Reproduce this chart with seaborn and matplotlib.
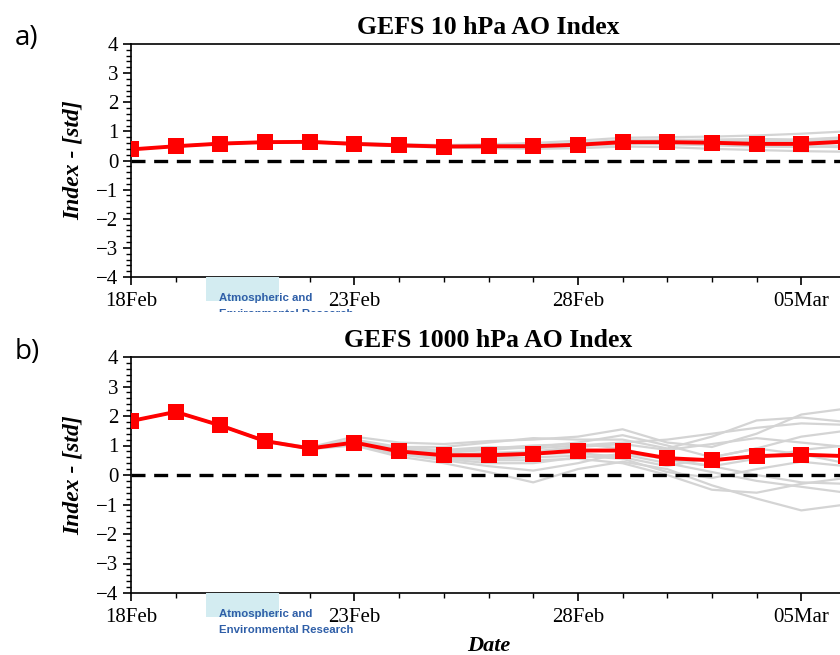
import numpy as np
import pandas as pd
import seaborn as sns
import matplotlib.pyplot as plt
import matplotlib.dates as mdates
from matplotlib.ticker import AutoMinorLocator
from matplotlib.patches import Rectangle

sns.set_style('ticks')
plt.rcParams['font.family'] = ['Liberation Serif', 'DejaVu Serif']
plt.rcParams['text.color'] = 'black'
plt.rcParams['axes.labelcolor'] = 'black'
plt.rcParams['axes.edgecolor'] = 'black'
plt.rcParams['xtick.color'] = 'black'
plt.rcParams['ytick.color'] = 'black'

dates = pd.date_range('2021-02-18', '2021-03-06', freq='D')

# ensemble mean (red)
mean_10 = [0.38, 0.49, 0.58, 0.63, 0.64, 0.57, 0.52, 0.48, 0.49, 0.49, 0.54, 0.63, 0.63, 0.61, 0.57, 0.57, 0.65]
mean_1000 = [1.83, 2.14, 1.68, 1.15, 0.90, 1.10, 0.80, 0.67, 0.67, 0.72, 0.83, 0.83, 0.57, 0.50, 0.64, 0.69, 0.64]

# ensemble members (grey)
members_10 = [
    [0.38, 0.49, 0.58, 0.64, 0.66, 0.60, 0.56, 0.53, 0.56, 0.60, 0.68, 0.78, 0.80, 0.82, 0.86, 0.92, 1.00],
    [0.38, 0.49, 0.57, 0.62, 0.62, 0.55, 0.49, 0.44, 0.42, 0.40, 0.42, 0.48, 0.46, 0.40, 0.36, 0.32, 0.30],
    [0.38, 0.50, 0.59, 0.64, 0.65, 0.58, 0.54, 0.50, 0.52, 0.54, 0.60, 0.70, 0.72, 0.70, 0.66, 0.70, 0.78],
    [0.38, 0.48, 0.58, 0.63, 0.63, 0.56, 0.50, 0.46, 0.46, 0.45, 0.50, 0.58, 0.56, 0.52, 0.48, 0.46, 0.50],
    [0.38, 0.49, 0.58, 0.63, 0.65, 0.58, 0.53, 0.49, 0.50, 0.52, 0.58, 0.66, 0.68, 0.72, 0.74, 0.72, 0.80],
    [0.38, 0.49, 0.58, 0.62, 0.63, 0.57, 0.51, 0.47, 0.47, 0.47, 0.50, 0.56, 0.58, 0.60, 0.55, 0.50, 0.45],
    [0.38, 0.49, 0.59, 0.64, 0.65, 0.59, 0.54, 0.50, 0.51, 0.50, 0.56, 0.64, 0.66, 0.64, 0.62, 0.66, 0.70],
    [0.38, 0.49, 0.58, 0.63, 0.64, 0.56, 0.51, 0.47, 0.48, 0.48, 0.52, 0.60, 0.62, 0.58, 0.52, 0.56, 0.60],
    [0.38, 0.48, 0.57, 0.62, 0.63, 0.56, 0.52, 0.49, 0.50, 0.51, 0.55, 0.66, 0.70, 0.66, 0.60, 0.58, 0.62],
    [0.38, 0.49, 0.58, 0.63, 0.64, 0.58, 0.52, 0.47, 0.47, 0.46, 0.52, 0.62, 0.60, 0.56, 0.62, 0.64, 0.68],
]
members_1000 = [
    [1.83, 2.14, 1.69, 1.17, 0.94, 1.30, 1.10, 1.05, 1.15, 1.20, 1.30, 1.55, 1.10, 0.95, 1.40, 2.05, 2.25],
    [1.83, 2.14, 1.67, 1.13, 0.88, 1.00, 0.62, 0.40, 0.10, -0.25, 0.20, 0.45, 0.20, -0.35, -0.80, -1.20, -1.00],
    [1.83, 2.13, 1.68, 1.16, 0.92, 1.20, 0.95, 0.95, 1.10, 1.25, 1.20, 1.20, 0.90, 1.30, 1.85, 1.95, 1.80],
    [1.83, 2.14, 1.68, 1.14, 0.89, 1.05, 0.72, 0.55, 0.40, 0.40, 0.60, 0.70, 0.40, 0.10, -0.20, -0.40, -0.60],
    [1.83, 2.14, 1.69, 1.15, 0.91, 1.15, 0.85, 0.75, 0.85, 0.95, 1.10, 1.35, 1.00, 0.60, 0.90, 1.30, 1.50],
    [1.83, 2.14, 1.68, 1.15, 0.90, 1.08, 0.78, 0.60, 0.55, 0.60, 0.65, 0.55, 0.10, -0.10, 0.20, 0.45, 0.30],
    [1.83, 2.14, 1.68, 1.16, 0.91, 1.12, 0.82, 0.68, 0.75, 0.80, 0.95, 1.05, 0.85, 1.05, 1.25, 1.10, 0.95],
    [1.83, 2.13, 1.67, 1.14, 0.89, 1.02, 0.70, 0.50, 0.30, 0.15, 0.40, 0.75, 0.55, 0.30, 0.00, -0.25, -0.30],
    [1.83, 2.14, 1.68, 1.15, 0.90, 1.10, 0.88, 0.80, 0.90, 1.00, 1.05, 0.90, 0.50, 0.30, 0.55, 0.85, 1.00],
    [1.83, 2.14, 1.68, 1.15, 0.90, 1.06, 0.76, 0.62, 0.60, 0.70, 0.75, 0.60, 0.30, 0.60, 0.90, 0.70, 0.40],
    [1.83, 2.14, 1.69, 1.16, 0.92, 1.18, 0.92, 0.85, 0.95, 0.90, 1.00, 1.10, 1.20, 1.40, 1.60, 1.75, 1.70],
    [1.83, 2.14, 1.67, 1.14, 0.89, 1.04, 0.74, 0.58, 0.50, 0.50, 0.55, 0.40, 0.00, -0.50, -0.60, -0.30, -0.10],
]

titles = ['GEFS 10 hPa AO Index', 'GEFS 1000 hPa AO Index']
panel_labels = ['a)', 'b)']
major_ticks = pd.to_datetime(['2021-02-18', '2021-02-23', '2021-02-28', '2021-03-05'])


def to_long(members):
    rows = []
    for i, m in enumerate(members):
        for d, v in zip(dates, m):
            rows.append({'date': d, 'value': v, 'member': i})
    return pd.DataFrame(rows)


fig = plt.figure(figsize=(8.4, 6.55), dpi=100)
ax_a = fig.add_axes([131 / 840, 1 - 277 / 655, 715 / 840, 233 / 655])
ax_b = fig.add_axes([131 / 840, 1 - 593 / 655, 715 / 840, 236 / 655])

for ax, members, mean, title in [(ax_a, members_10, mean_10, titles[0]),
                                 (ax_b, members_1000, mean_1000, titles[1])]:
    sns.lineplot(data=to_long(members), x='date', y='value', units='member',
                 estimator=None, color='#d4d4d4', linewidth=1.6, ax=ax, legend=False)
    ax.axhline(0, color='black', linewidth=2.4, dashes=(4.2, 2.6), zorder=3)
    sns.lineplot(x=dates, y=mean, color='#ff0000', linewidth=2.8, marker='s',
                 markersize=11, markeredgewidth=0, ax=ax, zorder=4)
    ax.set_xlim(dates[0], dates[-1])
    ax.set_ylim(-4, 4)
    ax.set_yticks(range(-4, 5))
    ax.set_yticklabels([str(v).replace('-', '\u2212') for v in range(-4, 5)])
    ax.yaxis.set_minor_locator(AutoMinorLocator(5))
    ax.set_xticks(major_ticks)
    ax.xaxis.set_major_formatter(mdates.DateFormatter('%d%b'))
    ax.xaxis.set_minor_locator(mdates.DayLocator())
    ax.tick_params(axis='both', which='major', labelsize=15, length=6, width=1.2, direction='out', pad=3)
    ax.tick_params(axis='both', which='minor', length=3.5, width=1, direction='out')
    ax.tick_params(axis='x', which='major', pad=5)
    ax.set_title(title, fontsize=18.5, fontweight='bold', pad=7)
    ax.set_xlabel('')
    ax.set_ylabel('Index - [std]', fontsize=17, fontweight='bold', style='italic', labelpad=9)
    for s in ax.spines.values():
        s.set_linewidth(1.2)

ax_b.set_xlabel('Date', fontsize=16, fontweight='bold', style='italic', labelpad=6)

fig.text(15 / 840, 1 - 38 / 655, panel_labels[0], fontsize=20, family=['Open Sans', 'DejaVu Sans'], va='center')
fig.text(15 / 840, 1 - 352 / 655, panel_labels[1], fontsize=20, family=['Open Sans', 'DejaVu Sans'], va='center')

# AER logo
for top in [277, 593]:
    fig.patches.append(Rectangle((206 / 840, 1 - (top + 24) / 655), 73 / 840, 24 / 655,
                                 transform=fig.transFigure, facecolor='#d3ecf1', edgecolor='none', zorder=5))
    fig.text(219 / 840, 1 - (top + 21) / 655, 'Atmospheric and', fontsize=8.2, fontweight='bold',
             color='#2f5fa8', family=['Liberation Sans', 'DejaVu Sans'], va='center', zorder=6)
    fig.text(219 / 840, 1 - (top + 37) / 655, 'Environmental Research', fontsize=8.2, fontweight='bold',
             color='#2f5fa8', family=['Liberation Sans', 'DejaVu Sans'], va='center', zorder=6)

# panel b covers the bottom of the first logo
fig.patches.append(Rectangle((200 / 840, 1 - 330 / 655), 170 / 840, 18 / 655,
                             transform=fig.transFigure, facecolor='white', edgecolor='none', zorder=7))

fig.savefig('out.png', dpi=100)
